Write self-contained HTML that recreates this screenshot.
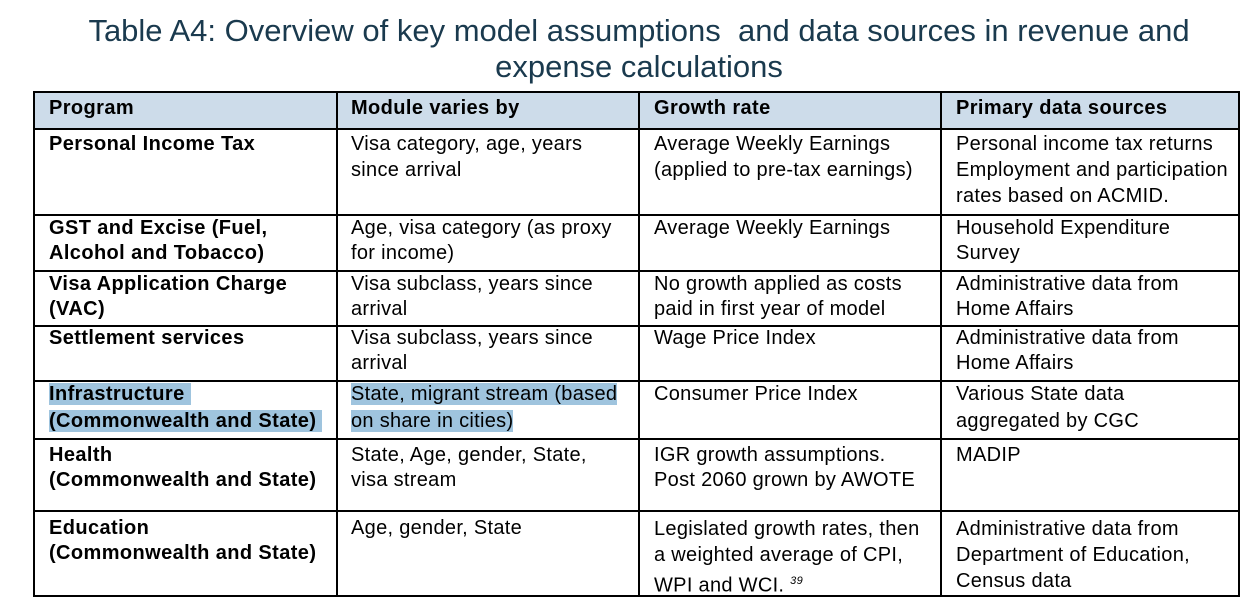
<!DOCTYPE html>
<html><head><meta charset="utf-8"><style>
body{margin:0;width:1245px;height:602px;background:#fff;position:relative;overflow:hidden;font-family:"Liberation Sans",Arial,sans-serif}
.title{position:absolute;left:0;width:1278px;text-align:center;font-size:31px;color:#1a3a4e;line-height:36px;top:13px}
.tbl{position:absolute;left:33px;top:91px;width:1207px;height:506px;border:2px solid #000;box-sizing:border-box}
.hdr{position:absolute;left:0;top:0;width:100%;height:35px;background:#cddcea;border-bottom:2px solid #000}
.v{position:absolute;top:0;bottom:0;width:2px;background:#000}
.h{position:absolute;left:0;right:0;height:2px;background:#000}
.c{position:absolute;font-size:20px;letter-spacing:0.3px;line-height:26px;color:#000;white-space:nowrap}
.b{font-weight:bold;letter-spacing:0.4px}
.hl{background:#9fc4de}
</style></head><body>
<div class="title">Table A4: Overview of key model assumptions&nbsp; and data sources in revenue and<br>expense calculations</div>
<div class="tbl">
<div class="hdr"></div>
<div class="v" style="left:301px"></div><div class="v" style="left:603px"></div><div class="v" style="left:905px"></div>
<div class="h" style="top:121px"></div><div class="h" style="top:177px"></div><div class="h" style="top:232px"></div><div class="h" style="top:287px"></div><div class="h" style="top:345px"></div><div class="h" style="top:417px"></div>
</div>
<div>
<div class="c b" style="left:49px;top:95px">Program</div>
<div class="c b" style="left:351px;top:95px">Module varies by</div>
<div class="c b" style="left:654px;top:95px">Growth rate</div>
<div class="c b" style="left:956px;top:95px">Primary data sources</div>

<div class="c b" style="left:49px;top:131px">Personal Income Tax</div>
<div class="c" style="left:351px;top:131px">Visa category, age, years<br>since arrival</div>
<div class="c" style="left:654px;top:131px">Average Weekly Earnings<br>(applied to pre-tax earnings)</div>
<div class="c" style="left:956px;top:131px">Personal income tax returns<br>Employment and participation<br>rates based on ACMID.</div>

<div class="c b" style="left:49px;top:216px;line-height:25px">GST and Excise (Fuel,<br>Alcohol and Tobacco)</div>
<div class="c" style="left:351px;top:216px;line-height:25px">Age, visa category (as proxy<br>for income)</div>
<div class="c" style="left:654px;top:216px;line-height:25px">Average Weekly Earnings</div>
<div class="c" style="left:956px;top:216px;line-height:25px">Household Expenditure<br>Survey</div>

<div class="c b" style="left:49px;top:272px;line-height:25px">Visa Application Charge<br>(VAC)</div>
<div class="c" style="left:351px;top:272px;line-height:25px">Visa subclass, years since<br>arrival</div>
<div class="c" style="left:654px;top:272px;line-height:25px">No growth applied as costs<br>paid in first year of model</div>
<div class="c" style="left:956px;top:272px;line-height:25px">Administrative data from<br>Home Affairs</div>

<div class="c b" style="left:49px;top:326px;line-height:25px">Settlement services</div>
<div class="c" style="left:351px;top:326px;line-height:25px">Visa subclass, years since<br>arrival</div>
<div class="c" style="left:654px;top:326px;line-height:25px">Wage Price Index</div>
<div class="c" style="left:956px;top:326px;line-height:25px">Administrative data from<br>Home Affairs</div>

<div class="c b" style="left:49px;top:381px;line-height:27px"><span class="hl">Infrastructure&nbsp;</span><br><span class="hl">(Commonwealth and State)&nbsp;</span></div>
<div class="c" style="left:351px;top:381px;line-height:27px"><span class="hl">State, migrant stream (based</span><br><span class="hl">on share in cities)</span></div>
<div class="c" style="left:654px;top:381px;line-height:27px">Consumer Price Index</div>
<div class="c" style="left:956px;top:381px;line-height:27px">Various State data<br>aggregated by CGC</div>

<div class="c b" style="left:49px;top:443px;line-height:25px">Health<br>(Commonwealth and State)</div>
<div class="c" style="left:351px;top:443px;line-height:25px">State, Age, gender, State,<br>visa stream</div>
<div class="c" style="left:654px;top:443px;line-height:25px">IGR growth assumptions.<br>Post 2060 grown by AWOTE</div>
<div class="c" style="left:956px;top:443px;line-height:25px">MADIP</div>

<div class="c b" style="left:49px;top:516px;line-height:25px">Education<br>(Commonwealth and State)</div>
<div class="c" style="left:351px;top:516px;line-height:25px">Age, gender, State</div>
<div class="c" style="left:654px;top:516px;line-height:26px">Legislated growth rates, then<br>a weighted average of CPI,<br>WPI and WCI. <sup style="font-size:11px;font-style:italic">39</sup></div>
<div class="c" style="left:956px;top:516px;line-height:26px">Administrative data from<br>Department of Education,<br>Census data</div>
</div>
</body></html>
